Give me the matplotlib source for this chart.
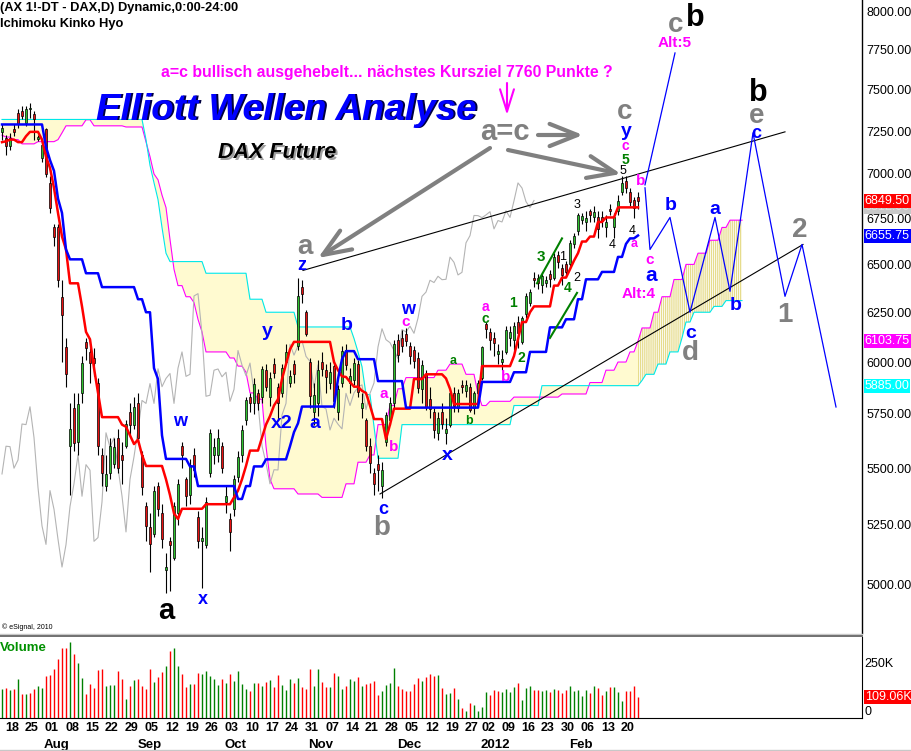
import numpy as np
import matplotlib
matplotlib.use("Agg")
import matplotlib.pyplot as plt
from matplotlib.ticker import NullLocator
from matplotlib.lines import Line2D

plt.rcParams['font.family'] = ['Liberation Sans', 'DejaVu Sans']
plt.rcParams['hatch.linewidth'] = 0.9

# ---------------- data ----------------
opens = [7245,7210,7160,7260,7360,7370,7300,7380,7350,7205,
         7090,7260,6950,6700,6700,6330,6075,5600,5780,5620,
         5850,6100,6050,6020,5900,5560,5420,5480,5520,5640,
         5560,5600,5760,5700,5800,5560,5330,5240,5210,5420,
         5300,5060,5180,5110,5300,5600,5450,5380,5560,5285,
         5180,5165,5480,5560,5560,5600,5350,5276,5320,5460,
         5560,5720,5830,5800,5850,5830,5960,5830,5990,5880,
         5850,6000,5900,5990,6080,6380,6250,6000,5760,5800,
         6000,5960,5900,5980,5760,5900,6060,5900,5910,5990,
         5780,5720,5600,5480,5520,5420,5620,5720,5800,6110,
         6120,6140,6080,6060,6020,5870,5940,5820,5760,5660,
         5760,5660,5700,5850,5780,5890,5860,5880,5780,5850,
         5920,6190,6150,6120,6040,6000,6050,6120,6110,6200,
         6100,6240,6300,6430,6430,6390,6400,6450,6430,6550,
         6480,6500,6500,6610,6680,6740,6730,6790,6760,6760,
         6760,6700,6800,6700,6790,6900,6960,6900,6850,6870]
highs = [7290,7230,7240,7290,7380,7400,7400,7420,7370,7230,
         7190,7270,6990,6720,6720,6420,6120,5800,5850,5850,
         6030,6120,6070,6070,5920,5590,5560,5640,5640,5680,
         5620,5720,5800,5830,5850,5580,5350,5300,5420,5440,
         5340,5130,5200,5350,5450,5620,5460,5540,5590,5310,
         5240,5370,5680,5640,5680,5620,5420,5300,5470,5580,
         5700,5830,5850,5920,5870,5980,5990,5950,6020,5900,
         5990,6090,5960,6010,6430,6420,6260,6020,5900,6010,
         6050,5990,6000,6010,5890,6080,6090,5970,6020,6010,
         5850,5730,5640,5500,5560,5530,5760,5830,6110,6140,
         6160,6170,6100,6080,6050,6010,5960,5880,5780,5760,
         5800,5730,5860,5880,5870,5910,5910,5900,5860,5910,
         6080,6200,6170,6150,6090,6060,6180,6180,6200,6230,
         6230,6350,6370,6460,6450,6460,6440,6470,6560,6570,
         6500,6520,6630,6670,6780,6780,6790,6800,6820,6790,
         6790,6770,6830,6780,6880,6990,6990,6920,6870,6900]
lows = [7200,7110,7140,7220,7270,7320,7280,7330,7200,7190,
        7070,6980,6780,6600,6380,6000,5880,5380,5580,5560,
        5800,6010,5900,5930,5560,5420,5400,5450,5500,5480,
        5430,5590,5650,5680,5620,5380,5180,5050,5200,5290,
        5150,4965,4975,5100,5250,5500,5330,5340,5460,5150,
        4985,5150,5460,5520,5530,5480,5300,5140,5290,5440,
        5530,5700,5760,5750,5770,5800,5860,5790,5920,5720,
        5830,5990,5880,5900,6060,6300,6130,5780,5700,5740,
        5930,5850,5870,5780,5720,5880,5960,5850,5890,5830,
        5730,5580,5480,5380,5400,5366,5600,5700,5780,6000,
        6050,6080,5990,5970,5850,5800,5770,5730,5640,5630,
        5680,5610,5690,5760,5760,5850,5830,5760,5750,5830,
        5910,6120,6060,6030,5990,5960,6040,6080,6060,6070,
        6090,6220,6280,6380,6370,6350,6380,6380,6420,6480,
        6390,6440,6480,6590,6660,6720,6680,6730,6730,6640,
        6700,6650,6770,6640,6770,6880,6890,6820,6750,6800]
closes = [7270,7160,7210,7245,7290,7340,7380,7390,7320,7215,
          7170,7000,6810,6645,6420,6236,5940,5680,5613,5797,
          5997,6070,5995,5994,5602,5480,5474,5600,5598,5500,
          5537,5703,5700,5784,5640,5414,5246,5167,5400,5318,
          5189,5072,5166,5330,5431,5560,5375,5516,5491,5180,
          5196,5350,5662,5595,5639,5502,5376,5220,5450,5552,
          5675,5814,5800,5895,5800,5967,5880,5920,5944,5800,
          5970,6050,5930,5940,6334,6346,6141,5834,5839,5960,
          5966,5928,5950,5810,5867,6057,5985,5933,5995,5853,
          5800,5602,5523,5430,5493,5492,5745,5800,6088,6034,
          6080,6106,6028,6003,5875,5986,5785,5774,5675,5730,
          5702,5680,5848,5790,5850,5878,5889,5771,5848,5898,
          6075,6166,6111,6096,6057,6017,6162,6150,6179,6143,
          6220,6332,6354,6416,6404,6437,6419,6421,6539,6511,
          6444,6458,6616,6655,6766,6765,6754,6769,6787,6692,
          6738,6730,6792,6755,6848,6949,6920,6843,6810,6849.5]
volumes_k = [151,158,146,151,203,125,125,130,151,166,
             156,218,224,255,307,364,362,397,334,286,
             208,125,178,156,250,255,166,170,172,244,
             203,99,166,198,203,166,151,255,187,213,
             239,270,348,364,270,229,161,177,177,234,
             229,244,218,203,172,203,182,229,192,244,
             177,151,140,182,182,166,187,198,161,224,
             172,146,203,182,208,161,151,255,166,255,
             187,161,161,234,218,151,166,203,192,213,
             166,177,182,192,120,140,172,182,260,166,
             151,140,140,177,208,192,213,229,218,224,
             156,125,130,156,99,50,36,76,68,36,
             56,135,120,146,140,135,151,135,161,182,
             94,156,166,146,146,140,146,135,151,146,
             130,146,166,140,146,114,146,130,166,156,
             120,140,161,161,135,88,140,140,166,109.06]
volume_dirs = ("grgrgrgrrg" "grrrrrrgrg" "grrrrrgggr" "rgrgrrrrgr" "rgrggrrgrr"
               "gggggrgrgg" "ggrgrgrgrr" "gggrgrrrgg" "rrgrggrggr" "grrrrggggr"
               "rrrrrgrrrg" "rggrgrgrgg" "ggrrrggggr" "gggrrggrgr" "rrgggggrgr"
               "rgrgggrrrr")

# Ichimoku lines as (value, number of bars) runs
tenkan_runs = [(7185,1),(7190,1),(7200,2),(7185,2),(7220,1),(7246,3),(7200,1),
               (7100,1),(7035,1),(6920,1),(6780,1),(6650,1),(6580,1),(6400,3),
               (6280,1),(6150,1),(6113,1),(5970,1),(5850,1),(5735,5),(5700,1),
               (5690,1),(5650,1),(5610,1),(5630,1),(5560,1),(5510,5),(5450,1),
               (5380,1),(5300,1),(5276,1),(5320,6),(5340,7),(5370,1),(5400,1),
               (5450,1),(5510,1),(5580,3),(5640,1),(5700,1),(5740,1),(5790,1),
               (5820,1),(5917,1),(5990,1),(6063,1),(6100,10),(6000,1),(5960,1),
               (5930,1),(5927,1),(5903,1),(5880,2),(5860,1),(5850,1),(5790,1),
               (5726,3),(5633,1),(5700,1),(5775,5),(5917,3),(5940,5),(5920,1),
               (5870,1),(5797,7),(5980,8),(6030,1),(6113,1),(6200,2),(6250,1),
               (6280,5),(6388,2),(6430,2),(6474,1),(6520,1),(6560,1),(6623,2),
               (6650,2),(6730,2),(6755,3),(6811,6)]
kijun_runs = [(7290,11),(7157,1),(7080,1),(7018,1),(6860,1),(6780,1),(6580,1),
              (6527,4),(6453,4),(6380,9),(6317,2),(6250,2),(5970,1),(5917,1),
              (5650,1),(5542,6),(5508,2),(5420,10),(5363,2),(5420,2),(5508,3),
              (5540,6),(5600,1),(5665,1),(5706,1),(5785,9),(5917,1),(6014,1),
              (6054,3),(6014,5),(5907,7),(5780,19),(5903,8),(5950,4),(6050,5),
              (6173,4),(6214,3),(6317,2),(6421,4),(6460,4),(6540,2),(6610,1),
              (6640,2),(6655.75,1)]
span_a_runs = [(7226,1),(7215,2),(7200,2),(7175,4),(7188,5),(7200,1),(7240,1),
               (7282,5),(7318,2),(7282,8),(7275,5),(7188,1),(7100,1),(7000,1),
               (6967,1),(6880,1),(6810,1),(6634,1),(6474,1),(6388,2),(6330,2),
               (6300,1),(6214,1),(6150,1),(6050,6),(6020,2),(5980,2),(5950,1),
               (5850,2),(5820,2),(5600,1),(5450,1),(5408,6),(5385,6),(5370,6),
               (5430,3),(5527,3),(5560,2),(5700,3),(5790,2),(5870,2),(5924,8),
               (5960,3),(5990,4),(5940,3),(5845,1),(5790,2),(5810,6),(5830,12),
               (5845,7),(5900,4),(5960,3),(6000,3),(6050,2),(6103.75,1),
               (6170,3),(6250,2),(6330,3),(6420,3),(6500,3),(6560,3),(6630,3),
               (6700,2),(6740,4)]
span_b_runs = [(7320,36),(7200,1),(7050,1),(6950,1),(6855,1),(6700,1),(6560,1),
               (6515,9),(6453,11),(6317,4),(6250,8),(6175,14),(6117,1),(6050,1),
               (5977,1),(5842,2),(5692,1),(5545,6),(5700,28),(5790,7),(5885,25),
               (5910,1),(5940,3),(5990,3),(6050,3),(6120,1),(6200,2),(6250,5),
               (6280,3),(6310,5)]

week_ticks = [1,6,11,16,21,26,31,36,41,46,51,56,61,66,71,76,81,86,91,96,
              101,106,111,116,120,125,130,135,140,145,150,155]
week_labels = ["18","25","01","08","15","22","29","05","12","19","26","03",
               "10","17","24","31","07","14","21","28","05","12","19","27",
               "02","09","16","23","30","06","13","20"]
month_pos = [13.75, 37, 58.5, 79.75, 101.75, 123.25, 144.75]
month_labels = ["Aug", "Sep", "Oct", "Nov", "Dec", "2012", "Feb"]
price_ticks = [5000,5250,5500,5750,6000,6250,6500,6750,7000,7250,7500,7750,8000]


def expand(runs):
    out = []
    for v, n in runs:
        out.extend([v] * n)
    return np.array(out, dtype=float)

tenkan = expand(tenkan_runs)
kijun = expand(kijun_runs)
span_a = expand(span_a_runs)
span_b = expand(span_b_runs)

O = np.array(opens); Hh = np.array(highs); L = np.array(lows); C = np.array(closes)
n = len(C)
xs = np.arange(n)

# ---------------- figure ----------------
W, H = 912, 751
fig = plt.figure(figsize=(W / 100, H / 100), dpi=100)
fig.patch.set_facecolor('white')
ax = fig.add_axes([0, 1 - 633 / H, 862 / W, 633 / H])
axv = fig.add_axes([0, 1 - 718 / H, 862 / W, 81 / H])

ax.set_yscale('log')
ax.set_ylim(4805, 8073)
ax.set_xlim(-0.5, 215)
ax.set_facecolor('white')
for s in ['top', 'left', 'bottom']:
    ax.spines[s].set_visible(False)
ax.spines['right'].set_color('black')
ax.spines['right'].set_linewidth(1.0)
ax.set_xticks([])
ax.set_yticks(price_ticks)
ax.set_yticklabels(["%.2f" % p for p in price_ticks])
ax.yaxis.set_minor_locator(NullLocator())
ax.tick_params(axis='y', which='both', length=0, pad=3, labelsize=9,
               right=True, labelright=True, left=False, labelleft=False)

# cloud (past part filled, future part hatched)
xa = np.arange(len(span_a))
past = xa <= n - 1
ax.fill_between(xa[past], span_a[past], span_b[past], color='#FFFAD0', lw=0, zorder=0.5)
fut = xa >= n - 1
ax.fill_between(xa[fut], span_a[fut], span_b[fut], facecolor='none',
                edgecolor='#E6DC8C', hatch='|' * 8, lw=0, zorder=0.5)
ax.plot(xa, span_a, color='#FF00FF', lw=0.8, zorder=1)
ax.plot(xa, span_b, color='#00E8E8', lw=0.8, zorder=1)

# lagging span
ax.plot(xs[:-26], C[26:], color='#B4B4B4', lw=0.8, zorder=1.2)

# candles
up = C >= O
ax.vlines(xs, L, Hh, color='black', lw=0.8, zorder=2)
bot = np.minimum(O, C)
top = np.maximum(O, C)
ax.bar(xs[up], top[up] - bot[up], bottom=bot[up], width=0.7,
       color='#2EC22E', edgecolor='black', lw=0.5, zorder=2.2)
ax.bar(xs[~up], top[~up] - bot[~up], bottom=bot[~up], width=0.7,
       color='#E81010', edgecolor='black', lw=0.5, zorder=2.2)

# tenkan / kijun
ax.plot(xs, tenkan, color='#FF0000', lw=1.8, zorder=3)
ax.plot(xs, kijun, color='#0000FF', lw=1.8, zorder=3)

# analyst drawings (bar index, price)
ax.plot([75.25, 195.75], [6468, 7246], color='black', lw=0.8, zorder=3.5)
ax.plot([94.5, 200.25], [5385, 6607], color='black', lw=0.8, zorder=3.5)
proj_x = [160.75, 162, 167, 172, 178.25, 182, 187.75, 195.75, 200, 208.5]
proj_y = [6921, 6580, 6755, 6250, 6755, 6358, 7240, 6332, 6607, 5783]
ax.plot(proj_x, proj_y, color='#0000FF', lw=0.9, zorder=3.6)
ax.plot([160.75, 168.25], [6938, 7730], color='#0000FF', lw=0.9, zorder=3.6)
ax.plot([133.75, 140], [6400, 6640], color='#008000', lw=1.5, zorder=3.6)
ax.plot([137, 143.75], [6120, 6350], color='#008000', lw=1.5, zorder=3.6)

# value boxes on price scale
ytr = ax.get_yaxis_transform()
ax.text(1.003, 6812, "6812.00", transform=ytr, fontsize=9, color='#E0E0E0', va='center',
        ha='left', clip_on=False, zorder=1,
        bbox=dict(boxstyle='square,pad=0.08', fc='#C8C8C8', ec='none'))
for val, fc in [(6849.5, '#FF0000'), (6655.75, '#0000FF'), (6103.75, '#FF00FF'),
                (5885.0, '#00FFFF')]:
    ax.text(1.003, val, "%.2f" % val, transform=ytr, fontsize=9, color='white',
            va='center', ha='left', clip_on=False, zorder=5,
            bbox=dict(boxstyle='square,pad=0.08', fc=fc, ec='none'))

# ---------------- volume ----------------
vcol = ['#008000' if d == 'g' else '#FF0000' for d in volume_dirs]
axv.vlines(xs, 0, volumes_k, colors=vcol, lw=1.0)
axv.set_xlim(-0.5, 215)
axv.set_ylim(0, 421)
axv.set_yticks([])
for s in ['top', 'left']:
    axv.spines[s].set_visible(False)
axv.spines['right'].set_color('black')
axv.spines['bottom'].set_color('black')
axv.set_xticks(np.array(week_ticks) + 1.5)
axv.set_xticklabels(week_labels, fontsize=9, fontweight='bold')
axv.tick_params(axis='x', length=0, pad=3)
for mp, ml in zip(month_pos, month_labels):
    axv.text(mp, -0.33, ml, transform=axv.get_xaxis_transform(), ha='center',
             va='center', fontsize=9.5, fontweight='bold', clip_on=False)
axv.text(1.003, 250, "250K", transform=axv.get_yaxis_transform(), fontsize=9,
         va='bottom', ha='left', clip_on=False)
axv.text(1.003, 0, "0", transform=axv.get_yaxis_transform(), fontsize=9,
         va='bottom', ha='left', clip_on=False)
axv.text(1.003, volumes_k[-1], "109.06K", transform=axv.get_yaxis_transform(),
         fontsize=9, color='white', va='center', ha='left', clip_on=False,
         bbox=dict(boxstyle='square,pad=0.08', fc='#FF0000', ec='none'))

# separators
fig.add_artist(Line2D([0, 862 / W], [1 - 633.5 / H] * 2, color='#C8C8C8', lw=1.0))
fig.add_artist(Line2D([0, 862 / W], [1 - 635.5 / H] * 2, color='#707070', lw=1.4))
fig.add_artist(Line2D([0, 1], [1 - 749.5 / H] * 2, color='#C8C8C8', lw=1.0))


# ---------------- texts ----------------
def ftext(px, py, s, **kw):
    fig.text(px / W, 1 - py / H, s, **kw)

ftext(0, 8, "(AX 1!-DT - DAX,D) Dynamic,0:00-24:00", fontsize=9.3, fontweight='bold',
      ha='left', va='center')
ftext(0, 24, "Ichimoku Kinko Hyo", fontsize=9.3, fontweight='bold', ha='left', va='center')
ftext(2, 627, "\u00a9 eSignal, 2010", fontsize=5, ha='left', va='center')
ftext(0, 648, "Volume", fontsize=9.5, fontweight='bold', color='#009000', ha='left',
      va='center')

ftext(387, 73, "a=c bullisch ausgehebelt... n\u00e4chstes Kursziel 7760 Punkte ?",
      fontsize=11.4, fontweight='bold', color='#FF00FF', ha='center', va='center')
ftext(288, 111, "Elliott Wellen Analyse", fontsize=26.5, fontweight='bold',
      style='italic', color='#000040', ha='center', va='center')
ftext(286, 110, "Elliott Wellen Analyse", fontsize=26.5, fontweight='bold',
      style='italic', color='#0000FF', ha='center', va='center')
ftext(279, 155, "DAX Future", fontsize=15.5, fontweight='bold', style='italic',
      color='#A0A0A0', ha='center', va='center')
ftext(277, 153, "DAX Future", fontsize=15.5, fontweight='bold', style='italic',
      color='black', ha='center', va='center')

GRAY, BLUE, MAG, GRN, BLK = '#808080', '#0000FF', '#FF00FF', '#008000', 'black'
labels = [
    (505, 132, 'a=c', GRAY, 21, 'bold'),
    (305, 247, 'a', GRAY, 20, 'bold'),
    (302, 266, 'z', BLUE, 13, 'bold'),
    (267, 332, 'y', BLUE, 14, 'bold'),
    (282, 424, 'x2', BLUE, 14, 'bold'),
    (315, 423, 'a', BLUE, 14, 'bold'),
    (347, 325, 'b', BLUE, 14, 'bold'),
    (180, 421, 'w', BLUE, 13, 'bold'),
    (203, 599, 'x', BLUE, 13, 'bold'),
    (166, 611, 'a', BLK, 21, 'bold'),
    (408, 309, 'w', BLUE, 13, 'bold'),
    (406, 322, 'c', MAG, 11, 'bold'),
    (384, 394, 'a', MAG, 11, 'bold'),
    (394, 447, 'b', MAG, 11, 'bold'),
    (383, 510, 'c', BLUE, 13, 'bold'),
    (382, 528, 'b', GRAY, 20, 'bold'),
    (447, 456, 'x', BLUE, 14, 'bold'),
    (453, 361, 'a', GRN, 9, 'bold'),
    (469, 421, 'b', GRN, 9, 'bold'),
    (485, 307, 'a', MAG, 10, 'bold'),
    (485, 319, 'c', GRN, 10, 'bold'),
    (506, 377, 'b', MAG, 11, 'bold'),
    (513, 303, '1', GRN, 10, 'bold'),
    (521, 358, '2', GRN, 10, 'bold'),
    (541, 257, '3', GRN, 11, 'bold'),
    (563, 257, '1', BLK, 9, 'normal'),
    (577, 278, '2', BLK, 9, 'normal'),
    (568, 288, '4', GRN, 10, 'bold'),
    (577, 205, '3', BLK, 9, 'normal'),
    (612, 245, '4', BLK, 9, 'normal'),
    (632, 231, '4', BLK, 9, 'normal'),
    (634, 244, 'a', MAG, 9, 'bold'),
    (623, 171, '5', BLK, 9, 'normal'),
    (625, 160, '5', GRN, 10, 'bold'),
    (625, 146, 'c', MAG, 10, 'bold'),
    (626, 131, 'y', BLUE, 14, 'bold'),
    (625, 112, 'c', GRAY, 20, 'bold'),
    (641, 181, 'b', MAG, 11, 'bold'),
    (650, 260, 'c', MAG, 11, 'bold'),
    (651, 275, 'a', BLUE, 15, 'bold'),
    (639, 294, 'Alt:4', MAG, 11, 'bold'),
    (671, 206, 'b', BLUE, 14, 'bold'),
    (715, 209, 'a', BLUE, 14, 'bold'),
    (736, 306, 'b', BLUE, 14, 'bold'),
    (691, 333, 'c', BLUE, 14, 'bold'),
    (690, 353, 'd', GRAY, 20, 'bold'),
    (676, 25, 'c', GRAY, 20, 'bold'),
    (695, 18, 'b', BLK, 22, 'bold'),
    (675, 43, 'Alt:5', MAG, 11, 'bold'),
    (758, 93, 'b', BLK, 22, 'bold'),
    (757, 116, 'e', GRAY, 20, 'bold'),
    (756, 133, 'c', BLUE, 13, 'bold'),
    (785, 315, '1', GRAY, 20, 'bold'),
    (800, 230, '2', GRAY, 20, 'bold'),
]
for px, py, s, col, fs, fw in labels:
    ftext(px, py, s, color=col, fontsize=fs, fontweight=fw, ha='center', va='center')


def farrow(x1, y1, x2, y2, col, lw, hl, hw):
    ax.annotate('', xy=(x2, H - y2), xytext=(x1, H - y1), xycoords='figure pixels',
                textcoords='figure pixels',
                arrowprops=dict(arrowstyle='->,head_length=%g,head_width=%g' % (hl, hw),
                                lw=lw, color=col, shrinkA=0, shrinkB=0))

farrow(490, 148, 318, 258, GRAY, 3, 2.0, 0.8)
farrow(538, 135, 583, 135, GRAY, 3, 2.0, 0.8)
farrow(508, 150, 621, 174, GRAY, 3, 2.0, 0.8)
farrow(507, 83, 507, 115, MAG, 1.5, 1.6, 0.5)

fig.savefig('out.png', dpi=100, facecolor='white')
